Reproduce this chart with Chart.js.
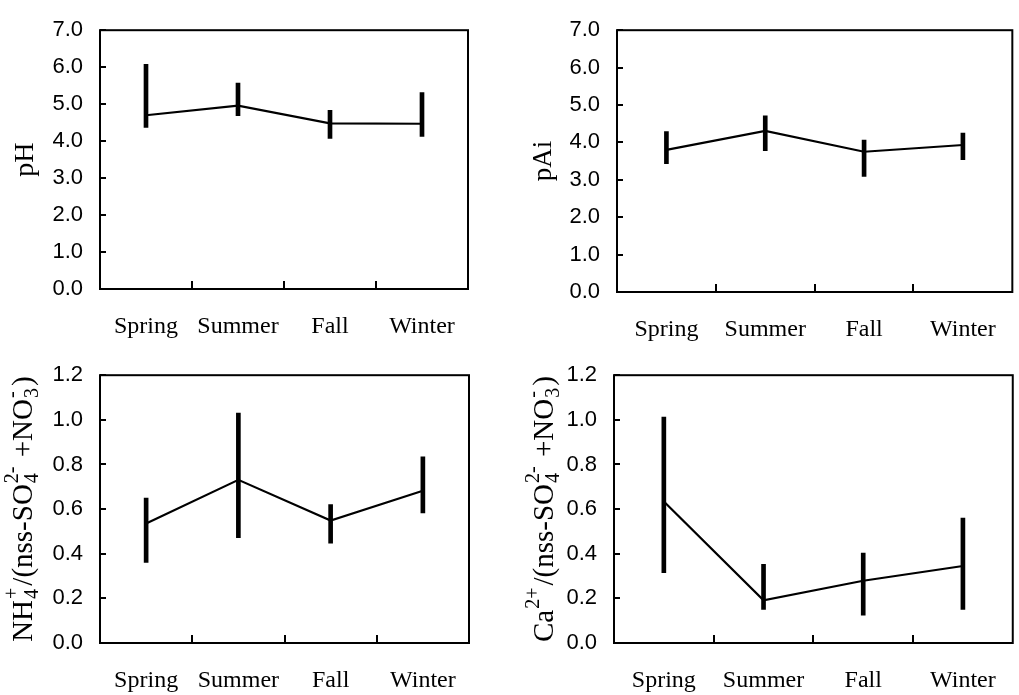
<!DOCTYPE html>
<html>
<head>
<meta charset="utf-8">
<script src="https://cdn.jsdelivr.net/npm/chart.js@4.4.1/dist/chart.umd.min.js"></script>
<style>
  html, body { margin: 0; padding: 0; background: #fff; }
  body { width: 1019px; height: 695px; position: relative; overflow: hidden; }
  canvas { position: absolute; }
</style>
</head>
<body>
<canvas id="c1" width="500" height="345" style="left:0;top:0"></canvas>
<canvas id="c2" width="519" height="345" style="left:500px;top:0"></canvas>
<canvas id="c3" width="500" height="350" style="left:0;top:345px"></canvas>
<canvas id="c4" width="519" height="350" style="left:500px;top:345px"></canvas>
<script>
// ---------- data ----------
const seasons = ['Spring', 'Summer', 'Fall', 'Winter'];

const phMean = [4.70, 4.96, 4.48, 4.47];
const phLow  = [4.37, 4.69, 4.07, 4.13];
const phHigh = [6.08, 5.57, 4.83, 5.31];

const paiMean = [3.80, 4.31, 3.75, 3.93];
const paiLow  = [3.43, 3.78, 3.09, 3.54];
const paiHigh = [4.29, 4.71, 4.06, 4.25];

const nh4Mean = [0.536, 0.731, 0.549, 0.682];
const nh4Low  = [0.361, 0.472, 0.447, 0.583];
const nh4High = [0.649, 1.030, 0.620, 0.834];

const caMean = [0.634, 0.191, 0.279, 0.345];
const caLow  = [0.315, 0.150, 0.125, 0.150];
const caHigh = [1.012, 0.352, 0.403, 0.560];

// axis titles as rich-text segments (t = normal, sub/sup = stacked indices)
const titlePH  = [{t: 'pH'}];
const titlePAI = [{t: 'pAi'}];
const titleNH4 = [{t: 'NH'}, {sub: '4', sup: '+'}, {t: '/(nss-SO'}, {sub: '4', sup: '2-'}, {t: ' +NO'}, {sub: '3', sup: '-'}, {t: ')'}];
const titleCA  = [{t: 'Ca'}, {sup: '2+'}, {t: '/(nss-SO'}, {sub: '4', sup: '2-'}, {t: ' +NO'}, {sub: '3', sup: '-'}, {t: ')'}];

// ---------- helpers ----------
const SERIF = "'Liberation Serif', 'Times New Roman', serif";
const SANS = "'Liberation Sans', Arial, sans-serif";

const framePlugin = {
  id: 'frame',
  afterDatasetsDraw(chart) {
    const {ctx, chartArea: a, scales} = chart;
    ctx.save();
    ctx.strokeStyle = '#000';
    ctx.lineWidth = 2;
    ctx.strokeRect(a.left, a.top, a.right - a.left, a.bottom - a.top);
    // inward y ticks
    const y = scales.y;
    y.ticks.forEach(t => {
      const py = Math.round(y.getPixelForValue(t.value));
      ctx.beginPath();
      ctx.moveTo(a.left, py);
      ctx.lineTo(a.left + 6, py);
      ctx.stroke();
    });
    // inward x ticks at category boundaries
    const x = scales.x;
    for (let i = 1; i < x.ticks.length; i++) {
      const px = Math.round((x.getPixelForValue(i - 1) + x.getPixelForValue(i)) / 2);
      ctx.beginPath();
      ctx.moveTo(px, a.bottom);
      ctx.lineTo(px, a.bottom - 8);
      ctx.stroke();
    }
    ctx.restore();
  }
};

const richTitlePlugin = {
  id: 'richTitle',
  afterDraw(chart, args, opts) {
    const {ctx, chartArea: a} = chart;
    const size = opts.size, small = Math.round(size * 0.68);
    const big = size + 'px ' + SERIF, sm = small + 'px ' + SERIF;
    ctx.save();
    ctx.fillStyle = '#000';
    ctx.textBaseline = 'alphabetic';
    ctx.textAlign = 'left';
    // measure
    const widths = opts.segs.map(s => {
      if (s.t !== undefined) { ctx.font = big; return ctx.measureText(s.t).width; }
      ctx.font = sm;
      return Math.max(s.sub ? ctx.measureText(s.sub).width : 0, s.sup ? ctx.measureText(s.sup).width : 0) + 3;
    });
    const total = widths.reduce((p, c) => p + c, 0);
    const cy = (a.top + a.bottom) / 2;
    ctx.translate(opts.x, cy);
    ctx.rotate(-Math.PI / 2);
    let pos = -total / 2;
    opts.segs.forEach((s, i) => {
      if (s.t !== undefined) {
        ctx.font = big;
        ctx.fillText(s.t, pos, 0);
      } else {
        ctx.font = sm;
        if (s.sub) ctx.fillText(s.sub, pos + 1, size * 0.22);
        if (s.sup) ctx.fillText(s.sup, pos + 1, -size * 0.5);
      }
      pos += widths[i];
    });
    ctx.restore();
  }
};

function makeChart(id, cfg) {
  const ds = [
    {
      type: 'line',
      data: cfg.mean,
      borderColor: '#000',
      borderWidth: 2.2,
      pointRadius: 0,
      tension: 0,
      fill: false,
      order: 1
    },
    {
      type: 'bar',
      data: cfg.low.map((v, i) => [v, cfg.high[i]]),
      backgroundColor: '#000',
      borderWidth: 0,
      barThickness: 4,
      order: 2
    }
  ];
  return new Chart(document.getElementById(id), {
    data: { labels: seasons, datasets: ds },
    plugins: [framePlugin, richTitlePlugin],
    options: {
      responsive: false,
      animation: false,
      devicePixelRatio: 1,
      layout: { padding: { top: cfg.padTop, right: cfg.padRight, left: 0, bottom: 0 } },
      plugins: {
        legend: { display: false },
        tooltip: { enabled: false },
        richTitle: { segs: cfg.title, x: cfg.titleX, size: cfg.titleSize }
      },
      scales: {
        x: {
          type: 'category',
          offset: true,
          grid: { display: false, drawTicks: false },
          border: { display: false },
          ticks: {
            color: '#000',
            padding: 23,
            maxRotation: 0,
            autoSkip: false,
            font: { family: SERIF, size: 24 }
          },
          afterFit: s => { s.height = cfg.xHeight; }
        },
        y: {
          min: 0,
          max: cfg.max,
          grid: { display: false, drawTicks: false },
          border: { display: false },
          ticks: {
            stepSize: cfg.step,
            color: '#000',
            padding: 17,
            font: { family: SANS, size: 22 },
            callback: v => Number(v).toFixed(1)
          },
          afterFit: s => { s.width = cfg.yWidth; }
        }
      }
    }
  });
}

makeChart('c1', { mean: phMean, low: phLow, high: phHigh, max: 7, step: 1,
  padTop: 21, padRight: 32, yWidth: 100, xHeight: 56,
  title: titlePH, titleX: 33, titleSize: 28 });
makeChart('c2', { mean: paiMean, low: paiLow, high: paiHigh, max: 7, step: 1,
  padTop: 22, padRight: 2, yWidth: 117, xHeight: 53,
  title: titlePAI, titleX: 51, titleSize: 27 });
makeChart('c3', { mean: nh4Mean, low: nh4Low, high: nh4High, max: 1.2, step: 0.2,
  padTop: 27, padRight: 31, yWidth: 100, xHeight: 52,
  title: titleNH4, titleX: 32, titleSize: 29 });
makeChart('c4', { mean: caMean, low: caLow, high: caHigh, max: 1.2, step: 0.2,
  padTop: 26, padRight: 2, yWidth: 114, xHeight: 52,
  title: titleCA, titleX: 53, titleSize: 29 });
</script>
</body>
</html>
